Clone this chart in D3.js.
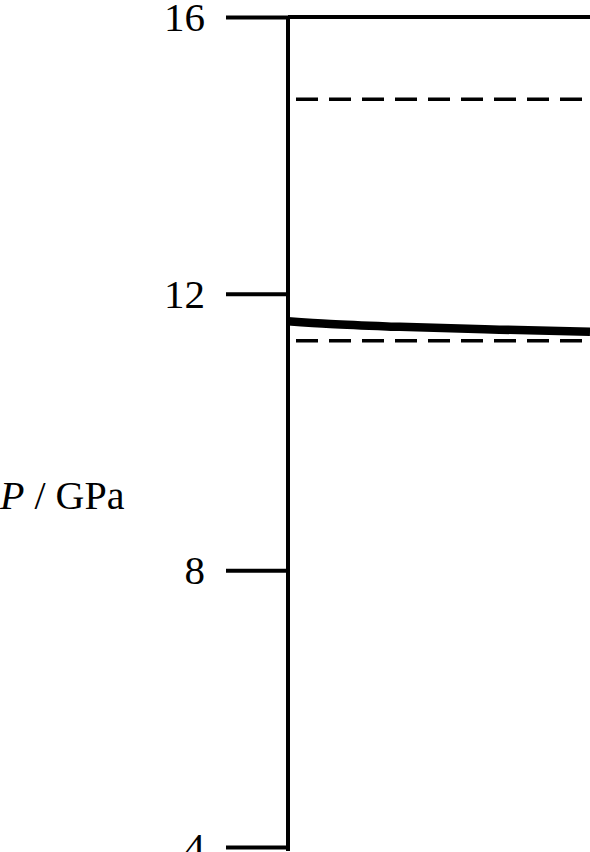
<!DOCTYPE html><html><head><script src="https://cdn.jsdelivr.net/npm/d3@7"></script>
<style>body{margin:0;background:#fff}</style></head><body><svg id="c" width="590" height="852"></svg>
<script>
const yTicks=[4,8,12,16];
const solidLevel=[16];
const dashedLevels=[14.81,11.32];
const curveX=[0,0.14,0.37,0.70,1.0];
const curveP=[11.60,11.56,11.52,11.48,11.45];
const svg=d3.select("#c");
const y=d3.scaleLinear().domain([4,16]).range([847,17]);
const x=d3.scaleLinear().domain([0,1]).range([288,590]);
const ax=svg.append("g").attr("transform","translate(288,0)").call(d3.axisLeft(y).tickValues(yTicks).tickSize(62).tickPadding(21).tickFormat(d3.format("d")));
ax.select(".domain").remove();
ax.selectAll(".tick line").attr("stroke","#000").attr("stroke-width",4);
ax.selectAll(".tick text").attr("font-family","Liberation Serif").attr("font-size",41).attr("fill","#000").attr("dy","0.33em");
svg.append("line").attr("x1",288).attr("x2",288).attr("y1",y(16)).attr("y2",y(4)+4).attr("stroke","#000").attr("stroke-width",4);
svg.selectAll(".s").data(solidLevel).join("line").attr("x1",288).attr("x2",590).attr("y1",d=>y(d)).attr("y2",d=>y(d)).attr("stroke","#000").attr("stroke-width",4);
svg.selectAll(".d").data(dashedLevels).join("line").attr("x1",290).attr("x2",590).attr("y1",d=>y(d)).attr("y2",d=>y(d)).attr("stroke","#000").attr("stroke-width",3.5).attr("stroke-dasharray","22,11").attr("stroke-dashoffset",-6);
svg.append("path").datum(curveX.map((v,i)=>[v,curveP[i]])).attr("d",d3.line().x(d=>x(d[0])).y(d=>y(d[1])).curve(d3.curveMonotoneX)).attr("fill","none").attr("stroke","#000").attr("stroke-width",8.5);
const t=svg.append("text").attr("x",0).attr("y",509).attr("font-family","Liberation Serif").attr("font-size",40).attr("fill","#000");
t.append("tspan").attr("font-style","italic").text("P");
t.append("tspan").text(" / GPa");
</script></body></html>
